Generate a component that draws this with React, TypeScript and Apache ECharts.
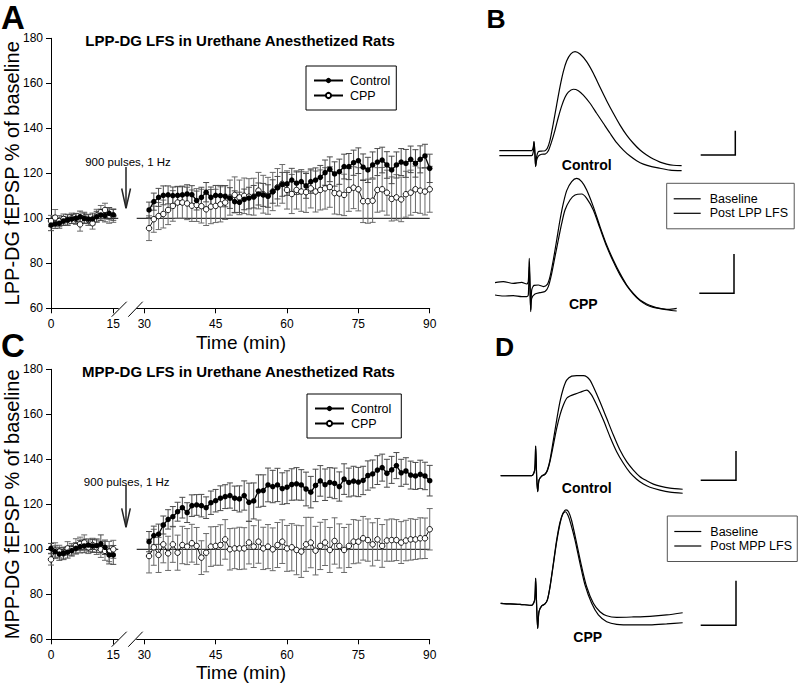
import { useEffect, useRef } from "react";
import * as echarts from "echarts";

const FONT = '"Liberation Sans", Arial, Helvetica, sans-serif';

// ---------- time axes (min) ----------
const preTime = [0, 1, 2, 3, 4, 5, 6, 7, 8, 9, 10, 11, 12, 13, 14, 15];
const postTime = [
  31, 32, 33, 34, 35, 36, 37, 38, 39, 40, 41, 42, 43, 44, 45, 46, 47, 48, 49, 50,
  51, 52, 53, 54, 55, 56, 57, 58, 59, 60, 61, 62, 63, 64, 65, 66, 67, 68, 69, 70,
  71, 72, 73, 74, 75, 76, 77, 78, 79, 80, 81, 82, 83, 84, 85, 86, 87, 88, 89, 90,
];
const preTicks = [0, 15];
const postTicks = [30, 45, 60, 75, 90];
const yTicksMin = 60;
const yTicksMax = 180;
const PRE_MAX = 16.2;
const POST_MIN = 28.4;
const POST_MAX = 90;
const REF = 100;

// ---------- Panel A: LPP-DG ----------
const aCtrlPre = [97.0, 97.5, 97.8, 98.8, 99.3, 99.7, 100.0, 100.7, 100.0, 99.6, 99.7, 100.7, 101.5, 101.2, 102.2, 101.5];
const aCtrlPreErr = [2.5, 2.0, 2.2, 2.0, 2.3, 2.0, 2.2, 2.5, 2.3, 2.0, 2.6, 2.4, 2.5, 2.8, 2.6, 2.4];
const aCppPre = [98.8, 100.3, 98.8, 99.7, 99.3, 100.0, 99.7, 97.3, 100.3, 99.3, 97.8, 101.2, 102.7, 103.7, 101.2, 101.2];
const aCppPreErr = [2.5, 3.6, 2.4, 2.2, 2.5, 2.3, 2.4, 3.0, 2.4, 2.5, 2.6, 2.8, 3.0, 3.0, 3.4, 3.0];
const aCtrlPost = [
  103.7, 107.4, 109.3, 110.2, 110.4, 110.1, 110.2, 110.4, 110.8, 110.5,
  107.9, 109.3, 111.6, 109.3, 110.2, 110.1, 109.8, 109.0, 107.4, 107.1,
  108.4, 109.0, 109.6, 110.8, 110.4, 109.9, 111.9, 113.6, 115.1, 115.3,
  117.0, 115.6, 116.3, 114.4, 116.3, 117.0, 118.2, 120.3, 121.8, 119.7,
  120.7, 123.0, 123.0, 124.7, 125.6, 122.7, 121.5, 123.7, 125.0, 125.9,
  123.7, 121.5, 123.7, 125.0, 124.4, 126.2, 124.4, 126.2, 127.7, 122.2,
];
const aCtrlPostErr = [
  3.5, 3.8, 4.0, 4.2, 4.0, 3.8, 4.0, 3.9, 4.1, 4.0,
  4.2, 4.5, 4.3, 4.6, 4.4, 4.5, 4.7, 4.6, 4.8, 4.5,
  4.6, 4.8, 5.0, 4.9, 5.1, 5.0, 5.2, 5.0, 5.3, 5.1,
  5.2, 5.0, 5.3, 5.5, 5.2, 5.4, 5.3, 5.6, 5.5, 5.4,
  5.6, 5.5, 5.8, 5.6, 5.7, 5.9, 5.6, 5.8, 6.0, 5.7,
  5.9, 6.1, 5.8, 6.0, 6.2, 5.9, 6.1, 6.0, 5.2, 6.3,
];
const aCppPost = [
  95.6, 99.6, 101.0, 101.9, 103.7, 105.5, 107.0, 107.0, 106.6, 105.6,
  105.9, 105.4, 104.0, 105.2, 105.5, 106.2, 107.0, 109.2, 110.4, 109.3,
  110.0, 109.6, 109.6, 112.3, 110.7, 110.0, 111.9, 113.8, 115.3, 112.6,
  110.8, 112.6, 111.9, 111.6, 113.3, 111.9, 112.6, 113.3, 113.9, 111.2,
  111.0, 110.4, 112.6, 113.6, 112.9, 107.6, 107.6, 107.8, 112.6, 112.9,
  111.4, 108.6, 109.3, 108.4, 110.7, 111.4, 112.9, 112.3, 111.9, 112.9,
];
const aCppPostErr = [
  5.5, 5.8, 6.0, 6.2, 6.5, 6.8, 7.0, 7.0, 7.2, 7.0,
  7.3, 7.5, 7.2, 7.6, 7.4, 7.8, 7.5, 7.8, 8.0, 7.7,
  7.9, 8.0, 8.2, 8.1, 8.4, 8.2, 8.5, 8.3, 8.6, 8.5,
  8.7, 8.5, 8.8, 9.0, 8.7, 9.1, 8.9, 9.2, 9.0, 9.3,
  9.4, 9.2, 9.5, 9.3, 9.6, 9.5, 9.8, 9.6, 9.9, 9.7,
  10.0, 9.8, 10.1, 9.9, 10.2, 10.0, 10.3, 10.1, 10.4, 10.2,
];

// ---------- Panel C: MPP-DG ----------
const cCtrlPre = [100.4, 99.0, 97.9, 98.2, 98.7, 99.4, 100.4, 101.2, 101.5, 101.9, 101.5, 101.6, 102.4, 100.9, 97.5, 97.5];
const cCtrlPreErr = [2.2, 2.5, 2.8, 2.5, 2.6, 2.4, 2.5, 2.8, 3.0, 2.7, 2.9, 3.0, 4.0, 3.2, 4.0, 4.2];
const cCppPre = [95.5, 99.4, 99.0, 98.2, 100.4, 100.0, 101.5, 102.4, 103.0, 100.9, 101.9, 100.9, 100.0, 99.3, 99.0, 100.0];
const cCppPreErr = [2.5, 3.5, 2.8, 2.8, 3.0, 2.6, 3.2, 3.0, 3.4, 2.8, 3.0, 3.2, 3.6, 4.2, 4.5, 4.0];
const cCtrlPost = [
  103.4, 106.1, 106.7, 110.8, 113.3, 114.5, 116.7, 118.5, 116.3, 119.4,
  119.7, 119.4, 118.5, 120.7, 121.6, 122.7, 123.4, 123.9, 122.7, 122.4,
  123.9, 120.9, 121.5, 125.9, 126.1, 128.6, 127.9, 128.6, 127.0, 127.6,
  128.8, 129.1, 128.6, 126.8, 125.4, 128.4, 130.4, 128.7, 129.7, 129.3,
  127.9, 131.2, 129.7, 130.3, 129.9, 130.6, 132.8, 133.5, 135.2, 136.3,
  133.8, 135.3, 137.2, 134.0, 134.8, 133.0, 132.6, 133.3, 132.6, 130.5,
];
const cCtrlPostErr = [
  4.5, 4.2, 4.5, 4.0, 4.3, 4.5, 4.2, 4.6, 4.4, 4.8,
  4.6, 5.0, 4.8, 5.2, 5.0, 5.5, 5.3, 5.6, 5.4, 5.8,
  6.5, 8.5, 8.0, 7.2, 7.0, 7.5, 7.2, 7.4, 7.0, 7.3,
  7.0, 7.2, 6.8, 7.5, 7.0, 7.2, 6.8, 7.0, 6.6, 6.8,
  6.5, 6.8, 6.4, 6.6, 6.5, 6.3, 6.5, 6.2, 6.4, 6.0,
  6.2, 6.0, 5.8, 6.0, 5.9, 6.2, 6.0, 6.3, 6.1, 6.8,
];
const cCppPost = [
  97.0, 100.9, 97.5, 102.2, 98.2, 102.2, 98.5, 101.9, 101.2, 102.7,
  101.5, 96.3, 98.5, 101.2, 101.5, 101.9, 104.4, 100.0, 100.4, 100.4,
  100.4, 103.0, 101.2, 103.4, 100.4, 101.2, 100.0, 101.9, 103.4, 100.4,
  100.9, 99.7, 99.0, 102.2, 103.0, 99.4, 101.5, 103.0, 99.7, 103.7,
  101.5, 99.7, 101.5, 103.4, 103.4, 104.9, 104.1, 102.2, 104.4, 101.5,
  103.9, 104.1, 104.1, 103.0, 103.9, 104.4, 104.4, 104.9, 104.9, 108.9,
];
const cCppPostErr = [
  7.5, 8.0, 7.8, 8.2, 7.6, 8.0, 7.8, 8.3, 8.0, 8.4,
  8.2, 7.5, 8.5, 8.8, 8.6, 9.0, 8.8, 9.2, 9.0, 9.4,
  9.2, 9.5, 9.3, 9.6, 9.4, 9.8, 9.5, 10.0, 9.7, 10.2,
  10.5, 11.0, 11.5, 12.0, 11.2, 10.8, 10.5, 10.2, 10.0, 10.3,
  9.8, 10.0, 9.6, 9.8, 9.5, 9.7, 9.4, 9.6, 9.3, 9.5,
  9.2, 9.4, 9.1, 9.3, 9.0, 9.2, 8.9, 9.1, 9.0, 9.2,
];

// ---------- Panel B traces ([ms, mV]) ----------
const bCtrlPost = [
  [0, 0.25], [3.23, 0.25], [3.4, 0.45], [3.47, 0.7], [3.57, 0.08], [3.63, -0.52], [3.73, -0.05],
  [3.9, 0.2], [4.23, 0.23], [4.57, 0.25], [4.8, 0.37], [5.07, 0.78], [5.4, 1.62], [5.73, 2.53],
  [6.07, 3.45], [6.4, 4.2], [6.73, 4.73], [7.13, 5.08], [7.57, 5.2], [8.07, 5.08], [8.73, 4.7],
  [9.4, 4.12], [10.07, 3.42], [10.73, 2.75], [11.4, 2.12], [12.07, 1.53], [12.73, 1.03], [13.4, 0.62],
  [14.07, 0.28], [14.73, 0.03], [15.4, -0.17], [16.07, -0.32], [16.73, -0.42], [17.4, -0.48], [18.23, -0.5],
];
const bCtrlBase = [
  [0, 0], [3.23, 0], [3.4, 0.2], [3.47, 0.7], [3.57, -0.05], [3.63, -0.55], [3.73, -0.22],
  [3.9, -0.02], [4.23, 0.07], [4.57, 0.08], [4.9, 0.25], [5.23, 0.7], [5.57, 1.28], [5.9, 1.92],
  [6.23, 2.48], [6.57, 2.92], [6.9, 3.18], [7.4, 3.32], [7.9, 3.25], [8.4, 3.03], [9.07, 2.62],
  [9.73, 2.12], [10.4, 1.62], [11.07, 1.12], [11.73, 0.65], [12.4, 0.28], [13.07, -0.02], [13.73, -0.25],
  [14.4, -0.42], [15.23, -0.55], [16.07, -0.63], [17.07, -0.72], [18.23, -0.75],
];
const bCppPost = [
  [0, 0.62], [0.83, 0.67], [1.83, 0.58], [2.67, 0.63], [3.17, 0.55], [3.33, 0.67], [3.43, 1.83],
  [3.5, 0.58], [3.57, -0.83], [3.67, 0.25], [3.9, 0.48], [4.33, 0.5], [4.83, 0.42], [5.23, 0.53],
  [5.5, 0.92], [5.83, 1.75], [6.17, 2.75], [6.5, 3.75], [6.83, 4.58], [7.17, 5.22], [7.67, 5.67],
  [8.17, 5.83], [8.67, 5.67], [9.17, 5.25], [9.83, 4.42], [10.5, 3.42], [11.17, 2.5], [11.83, 1.75],
  [12.5, 1.08], [13.17, 0.5], [13.83, 0.08], [14.5, -0.25], [15.17, -0.45], [15.83, -0.58],
  [16.5, -0.67], [17.33, -0.75], [18.17, -0.8],
];
const bCppBase = [
  [0, 0], [0.83, -0.05], [1.83, -0.03], [2.67, -0.08], [3.17, -0.08], [3.33, 0], [3.43, 1.42],
  [3.5, 0.42], [3.57, -0.75], [3.67, -0.17], [4, 0.05], [4.5, 0.12], [5, 0.17], [5.33, 0.42],
  [5.67, 1.08], [6, 1.92], [6.33, 2.75], [6.67, 3.58], [7, 4.25], [7.5, 4.75], [8, 5.0],
  [8.67, 5.05], [9.17, 4.83], [9.83, 4.25], [10.5, 3.33], [11.17, 2.42], [11.83, 1.67], [12.5, 1.0],
  [13.17, 0.47], [13.83, 0.05], [14.5, -0.28], [15.17, -0.5], [15.83, -0.62], [16.5, -0.68],
  [17.33, -0.72], [18.17, -0.67],
];

// ---------- Panel D traces ([ms, mV]) ----------
const dCtrlPost = [
  [0, 0], [3.1, 0], [3.4, 0.28], [3.5, 1.48], [3.6, -0.05], [3.7, -0.8], [3.83, -0.22],
  [4.1, -0.02], [4.43, 0.07], [4.67, 0.28], [4.93, 0.78], [5.27, 1.78], [5.6, 2.78], [5.93, 3.7],
  [6.27, 4.37], [6.6, 4.78], [7.1, 4.98], [7.6, 5.0], [8.27, 5.0], [8.6, 4.95], [8.93, 4.78],
  [9.27, 4.45], [9.93, 3.7], [10.6, 2.87], [11.27, 2.03], [11.93, 1.28], [12.6, 0.7], [13.27, 0.28],
  [13.93, -0.05], [14.6, -0.25], [15.27, -0.42], [15.93, -0.52], [16.93, -0.62], [18.2, -0.68],
];
const dCtrlBase = [
  [0, 0], [3.1, 0], [3.4, 0.28], [3.5, 1.48], [3.6, -0.05], [3.7, -0.8], [3.83, -0.22],
  [4.1, -0.02], [4.43, 0.07], [4.67, 0.25], [4.93, 0.7], [5.27, 1.53], [5.6, 2.37], [5.93, 3.03],
  [6.27, 3.53], [6.6, 3.87], [6.93, 3.98], [7.43, 4.08], [7.93, 4.17], [8.6, 4.28], [9.1, 4.03],
  [9.6, 3.53], [10.27, 2.78], [10.93, 1.95], [11.6, 1.2], [12.27, 0.62], [12.93, 0.15], [13.6, -0.18],
  [14.27, -0.42], [14.93, -0.58], [15.93, -0.72], [16.93, -0.82], [18.2, -0.88],
];
const dCppPost = [
  [0, 0.1], [0.93, 0.07], [1.93, 0.05], [3.1, 0], [3.4, 0.27], [3.5, 1.35], [3.6, -0.07],
  [3.7, -1.15], [3.83, -0.32], [4.1, -0.03], [4.43, 0.07], [4.67, 0.27], [4.93, 0.93], [5.27, 2.1],
  [5.6, 3.27], [5.93, 4.15], [6.27, 4.63], [6.53, 4.77], [6.8, 4.67], [7.1, 4.23], [7.6, 3.1],
  [8.1, 1.93], [8.6, 0.93], [9.27, 0.1], [9.93, -0.32], [10.6, -0.52], [11.6, -0.6], [13.27, -0.58],
  [14.93, -0.55], [16.6, -0.48], [18.2, -0.37],
];
const dCppBase = [
  [0, 0.1], [0.93, 0.07], [1.93, 0.05], [3.1, 0], [3.4, 0.27], [3.5, 1.35], [3.6, -0.07],
  [3.7, -1.15], [3.83, -0.32], [4.1, -0.03], [4.43, 0.07], [4.67, 0.27], [4.93, 0.9], [5.27, 2.05],
  [5.6, 3.18], [5.93, 4.07], [6.2, 4.57], [6.47, 4.68], [6.73, 4.5], [7.0, 4.1], [7.43, 3.27],
  [7.93, 2.1], [8.43, 1.02], [9.1, 0.1], [9.77, -0.48], [10.6, -0.82], [11.6, -0.95], [13.27, -0.98],
  [14.93, -0.98], [16.6, -0.93], [18.2, -0.87],
];

// ---------- helpers ----------
const pairs = (ts: number[], vs: number[]) => ts.map((t, i) => [t, vs[i]]);
const triples = (ts: number[], vs: number[], es: number[]) => ts.map((t, i) => [t, vs[i], es[i]]);

const errRender = (color: string) => (params: any, api: any) => {
  const x = api.value(0);
  const y = api.value(1);
  const e = api.value(2);
  const hi = api.coord([x, y + e]);
  const lo = api.coord([x, y - e]);
  const w = 3;
  const st = { stroke: color, lineWidth: 1 };
  return {
    type: "group",
    children: [
      { type: "line", shape: { x1: hi[0], y1: hi[1], x2: lo[0], y2: lo[1] }, style: st },
      { type: "line", shape: { x1: hi[0] - w, y1: hi[1], x2: hi[0] + w, y2: hi[1] }, style: st },
      { type: "line", shape: { x1: lo[0] - w, y1: lo[1], x2: lo[0] + w, y2: lo[1] }, style: st },
    ],
  };
};

const CTRL_ERR = "#4a4a4a";
const CPP_ERR = "#6a6a6a";

function timeSeries(
  gPre: number, gPost: number,
  ctrlPre: number[], ctrlPreErr: number[], cppPre: number[], cppPreErr: number[],
  ctrlPost: number[], ctrlPostErr: number[], cppPost: number[], cppPostErr: number[]
) {
  const out: any[] = [];
  const segs = [
    { g: gPre, t: preTime, c: ctrlPre, ce: ctrlPreErr, p: cppPre, pe: cppPreErr, ref: [0, PRE_MAX] },
    { g: gPost, t: postTime, c: ctrlPost, ce: ctrlPostErr, p: cppPost, pe: cppPostErr, ref: [POST_MIN, POST_MAX] },
  ];
  for (const s of segs) {
    out.push({
      type: "line", xAxisIndex: s.g, yAxisIndex: s.g, silent: true, symbol: "none",
      data: [[s.ref[0], REF], [s.ref[1], REF]], lineStyle: { color: "#000", width: 1 }, z: 1,
    });
    out.push({
      type: "custom", xAxisIndex: s.g, yAxisIndex: s.g, silent: true, z: 2,
      renderItem: errRender(CPP_ERR), data: triples(s.t, s.p, s.pe),
    });
    out.push({
      type: "custom", xAxisIndex: s.g, yAxisIndex: s.g, silent: true, z: 2,
      renderItem: errRender(CTRL_ERR), data: triples(s.t, s.c, s.ce),
    });
    out.push({
      type: "line", name: "CPP", xAxisIndex: s.g, yAxisIndex: s.g, z: 3,
      data: pairs(s.t, s.p), symbol: "circle", symbolSize: 5.5, showSymbol: true,
      lineStyle: { color: "#000", width: 0.9 },
      itemStyle: { color: "#fff", borderColor: "#000", borderWidth: 0.9 },
    });
    out.push({
      type: "line", name: "Control", xAxisIndex: s.g, yAxisIndex: s.g, z: 4,
      data: pairs(s.t, s.c), symbol: "circle", symbolSize: 5.5, showSymbol: true,
      lineStyle: { color: "#000", width: 1.3 },
      itemStyle: { color: "#000", borderColor: "#000", borderWidth: 0 },
    });
  }
  return out;
}

function traceSeries(g: number, name: string, data: number[][]) {
  return {
    type: "line", name, xAxisIndex: g, yAxisIndex: g, data, symbol: "none", showSymbol: false,
    smooth: 0.25, silent: true, lineStyle: { color: "#000", width: 1.2 }, itemStyle: { color: "#000" },
  };
}

const axisFont = { fontFamily: FONT, fontSize: 12, color: "#000" };

function timeAxes(top: number, yName: string) {
  const grids = [
    { left: 51, top, width: PRE_MAX * 4.153, height: 270 },
    { left: 144.3 - (30 - POST_MIN) * 4.757, top, width: (POST_MAX - POST_MIN) * 4.757, height: 270 },
  ];
  const common = {
    type: "value", axisLine: { show: true, lineStyle: { color: "#000", width: 1 } },
    splitLine: { show: false },
  };
  const xAxes = [
    {
      ...common, min: 0, max: PRE_MAX,
      axisTick: { show: true, length: 5, customValues: preTicks, lineStyle: { color: "#000" } },
      axisLabel: { ...axisFont, margin: 10, customValues: preTicks },
    },
    {
      ...common, min: POST_MIN, max: POST_MAX,
      axisTick: { show: true, length: 5, customValues: postTicks, lineStyle: { color: "#000" } },
      axisLabel: { ...axisFont, margin: 10, customValues: postTicks },
    },
  ];
  const yAxes = [
    {
      ...common, min: yTicksMin, max: yTicksMax, interval: 20,
      axisTick: { show: true, length: 5, lineStyle: { color: "#000" } },
      axisLabel: { ...axisFont, margin: 8 },
      name: yName, nameLocation: "middle", nameGap: 29, nameMoveOverlap: false,
      nameTextStyle: { fontFamily: FONT, fontSize: 20, color: "#000", lineHeight: 20 },
    },
    { type: "value", min: yTicksMin, max: yTicksMax, show: false, splitLine: { show: false } },
  ];
  return { grids, xAxes, yAxes };
}

const traceGrids = [
  { left: 499.33, top: 45.67, width: 200, height: 140, ymin: -1.5, ymax: 5.5 },
  { left: 495, top: 175, width: 200, height: 150, ymin: -1.5, ymax: 6 },
  { left: 500.67, top: 365.67, width: 200, height: 140, ymin: -1.5, ymax: 5.5 },
  { left: 500.67, top: 495.33, width: 200, height: 140, ymin: -1.5, ymax: 5.5 },
];

function txt(x: number, y: number, text: string, size: number, bold = false, align = "center", lh?: number) {
  const style: any = {
    text, fontSize: size, fontFamily: FONT, fontWeight: bold ? "bold" : "normal",
    fill: "#000", align, verticalAlign: "middle",
  };
  if (lh) style.lineHeight = lh;
  return { type: "text", x, y, silent: true, style };
}
function seg(x1: number, y1: number, x2: number, y2: number, w = 1, c = "#000") {
  return { type: "line", silent: true, shape: { x1, y1, x2, y2 }, style: { stroke: c, lineWidth: w } };
}
function poly(points: number[][], w = 1.5, c = "#000") {
  return { type: "polyline", silent: true, shape: { points }, style: { stroke: c, lineWidth: w, fill: "none" } };
}

export default function App() {
  const ref = useRef<HTMLDivElement>(null);
  useEffect(() => {
    if (!ref.current) return;
    const chart = echarts.init(ref.current, undefined, { renderer: "svg" });
    const A = timeAxes(38.3, "LPP-DG fEPSP % of baseline");
    const C = timeAxes(369.3, "MPP-DG fEPSP % of baseline");
    const grids: any[] = [...A.grids, ...C.grids, ...traceGrids.map((g) => ({ left: g.left, top: g.top, width: g.width, height: g.height }))]
      .map((g) => ({ ...g, outerBoundsMode: "none" }));
    const xAxis: any[] = [...A.xAxes, ...C.xAxes, ...traceGrids.map(() => ({ type: "value", min: 0, max: 20, show: false }))]
      .map((a, i) => ({ ...a, gridIndex: i }));
    const yAxis: any[] = [...A.yAxes, ...C.yAxes, ...traceGrids.map((g) => ({ type: "value", min: g.ymin, max: g.ymax, show: false, splitLine: { show: false } }))]
      .map((a, i) => ({ ...a, gridIndex: i }));

    const series: any[] = [
      ...timeSeries(0, 1, aCtrlPre, aCtrlPreErr, aCppPre, aCppPreErr, aCtrlPost, aCtrlPostErr, aCppPost, aCppPostErr),
      ...timeSeries(2, 3, cCtrlPre, cCtrlPreErr, cCppPre, cCppPreErr, cCtrlPost, cCtrlPostErr, cCppPost, cCppPostErr),
      traceSeries(4, "Baseline", bCtrlBase),
      traceSeries(4, "Post LPP LFS", bCtrlPost),
      traceSeries(5, "Baseline", bCppBase),
      traceSeries(5, "Post LPP LFS", bCppPost),
      traceSeries(6, "Baseline", dCtrlBase),
      traceSeries(6, "Post MPP LFS", dCtrlPost),
      traceSeries(7, "Baseline", dCppBase),
      traceSeries(7, "Post MPP LFS", dCppPost),
    ];

    const legBase = {
      orient: "vertical", selectedMode: false, backgroundColor: "#fff",
      textStyle: { fontFamily: FONT, fontSize: 12.5, color: "#000", padding: [0, 0, 0, 2] },
    };
    const legend: any[] = [
      { ...legBase, left: 306, top: 66, data: ["Control", "CPP"], itemWidth: 29, itemHeight: 6.5, itemGap: 2, padding: [8, 6, 8, 7], borderColor: "#000", borderWidth: 1 },
      { ...legBase, left: 307, top: 394, data: ["Control", "CPP"], itemWidth: 29, itemHeight: 6.5, itemGap: 2, padding: [8, 10, 8, 7], borderColor: "#000", borderWidth: 1 },
      { ...legBase, left: 666.7, top: 183.3, data: ["Baseline", "Post LPP LFS"], icon: "rect", itemWidth: 27, itemHeight: 1.2, itemGap: 1.5, padding: [9, 6, 9, 7], borderColor: "#555", borderWidth: 1, textStyle: { ...legBase.textStyle, padding: [0, 0, 0, 4] } },
      { ...legBase, left: 667.3, top: 516, data: ["Baseline", "Post MPP LFS"], icon: "rect", itemWidth: 27, itemHeight: 1.2, itemGap: 1.5, padding: [9, 5, 9, 7], borderColor: "#555", borderWidth: 1, textStyle: { ...legBase.textStyle, padding: [0, 0, 0, 4] } },
    ];

    const graphic: any[] = [
      txt(1, 17, "A", 33, true, "left"),
      txt(1, 345, "C", 33, true, "left"),
      txt(486.5, 18.8, "B", 26.5, true, "left"),
      txt(495, 347, "D", 26.5, true, "left"),
      txt(240, 40.5, "LPP-DG LFS in Urethane Anesthetized Rats", 15, true),
      txt(238.5, 371.7, "MPP-DG LFS in Urethane Anesthetized Rats", 15, true),
      txt(241, 342, "Time (min)", 19, false, "center", 16),
      txt(241, 672.5, "Time (min)", 19, false, "center", 16),
      txt(128, 162, "900 pulses, 1 Hz", 11.5),
      txt(126.7, 482, "900 pulses, 1 Hz", 11.5),
      seg(126, 167, 126, 208, 1.5, "#222"),
      poly([[121.7, 188.5], [126, 208.3], [130.5, 188.5]], 1.5, "#222"),
      seg(126, 485, 126, 527, 1.5, "#222"),
      poly([[121.7, 508.3], [126, 527.3], [130.3, 508.3]], 1.5, "#222"),
      seg(111.7, 316.7, 126.7, 301.7),
      seg(128.3, 316.7, 142.7, 301.7),
      seg(111.7, 646.7, 126.7, 631.7),
      seg(128.3, 646.7, 142.7, 631.7),
      txt(586.7, 164.7, "Control", 14, true),
      txt(583.3, 304, "CPP", 14, true),
      txt(586.7, 487.7, "Control", 14, true),
      txt(587.7, 636.7, "CPP", 14, true),
      poly([[700.7, 155], [735.3, 155], [735.3, 130.7]]),
      poly([[699.3, 293.3], [734, 293.3], [734, 254]]),
      poly([[700.7, 480.3], [736, 480.3], [736, 451]]),
      poly([[700.7, 625.3], [736, 625.3], [736, 580.7]]),
    ];

    chart.setOption({
      animation: false,
      backgroundColor: "#fff",
      textStyle: { fontFamily: FONT },
      grid: grids,
      xAxis,
      yAxis,
      legend,
      series,
      graphic,
    });
    return () => chart.dispose();
  }, []);
  return (
    <div
      ref={ref}
      style={{ position: "fixed", left: 0, top: 0, width: 803, height: 686, background: "#fff" }}
    />
  );
}
